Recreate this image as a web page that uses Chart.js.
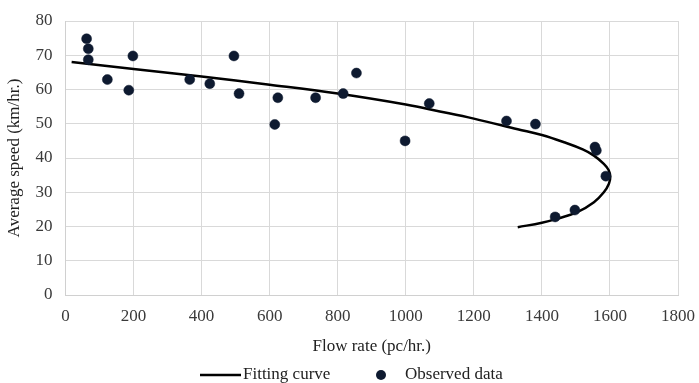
<!DOCTYPE html>
<html>
<head>
<meta charset="utf-8">
<script src="https://cdn.jsdelivr.net/npm/chart.js@4"></script>
<style>
  html, body { margin: 0; padding: 0; background: #ffffff; }
  #wrap { width: 699px; height: 383px; }
</style>
</head>
<body>
<div id="wrap"><canvas id="c" width="699" height="383"></canvas></div>
<script>
// Observed data (flow rate pc/hr, average speed km/hr)
const observedFlow  = [62, 67, 67, 123, 186, 198, 365, 424, 495, 510, 615, 624, 735, 816, 855, 998, 1069, 1296, 1381, 1556, 1560, 1588, 1439, 1497];
const observedSpeed = [74.8, 71.9, 68.7, 62.9, 59.8, 69.8, 62.9, 61.7, 69.8, 58.8, 49.8, 57.6, 57.6, 58.8, 64.8, 45.0, 55.9, 50.8, 49.9, 43.2, 42.2, 34.7, 22.8, 24.8];

// Fitting curve
const curveFlow  = [18, 200, 400, 600, 800, 1000, 1100, 1200, 1329, 1400, 1465, 1520, 1553, 1582, 1596, 1601, 1597, 1582, 1553, 1504, 1446, 1400, 1329];
const curveSpeed = [68.0, 66.0, 63.8, 61.4, 58.8, 55.6, 53.6, 51.5, 48.4, 46.7, 44.6, 42.5, 40.7, 38.3, 36.5, 34.6, 32.5, 30.0, 27.1, 24.2, 22.3, 21.1, 19.8];

// Axis ticks
const xTicks = [0, 200, 400, 600, 800, 1000, 1200, 1400, 1600, 1800];
const yTicks = [0, 10, 20, 30, 40, 50, 60, 70, 80];

const seriesNames = ['Fitting curve', 'Observed data'];
const xTitle = 'Flow rate (pc/hr.)';
const yTitle = 'Average speed (km/hr.)';

const FONT = "'Liberation Serif', 'Times New Roman', serif";
const DOT = '#0e1a30';

const observedPts = observedFlow.map((x, i) => ({ x, y: observedSpeed[i] }));
const curvePts = curveFlow.map((x, i) => ({ x, y: curveSpeed[i] }));

const legendPlugin = {
  id: 'customLegend',
  afterDraw(chart) {
    const ctx = chart.ctx;
    const y = 375;
    ctx.save();
    ctx.font = "17px " + FONT;
    ctx.textBaseline = 'middle';
    ctx.textAlign = 'left';
    ctx.strokeStyle = '#000000';
    ctx.lineWidth = 2.5;
    ctx.beginPath();
    ctx.moveTo(200, y);
    ctx.lineTo(241, y);
    ctx.stroke();
    ctx.fillStyle = '#222222';
    ctx.fillText(seriesNames[0], 243, y);
    ctx.fillStyle = DOT;
    ctx.beginPath();
    ctx.arc(381, y, 5, 0, Math.PI * 2);
    ctx.fill();
    ctx.fillStyle = '#222222';
    ctx.fillText(seriesNames[1], 405, y);
    ctx.restore();
  }
};

new Chart(document.getElementById('c'), {
  type: 'scatter',
  data: {
    datasets: [
      {
        label: seriesNames[1],
        data: observedPts,
        pointRadius: 5,
        pointHoverRadius: 5,
        pointBackgroundColor: DOT,
        pointBorderColor: DOT,
        pointBorderWidth: 0.5,
        showLine: false
      },
      {
        label: seriesNames[0],
        data: curvePts,
        showLine: true,
        borderColor: '#000000',
        borderWidth: 2.5,
        pointRadius: 0,
        pointHoverRadius: 0,
        tension: 0.4,
        fill: false
      }
    ]
  },
  options: {
    responsive: false,
    animation: false,
    devicePixelRatio: 1,
    layout: { padding: { top: 21, right: 21, bottom: 26, left: 0 } },
    plugins: {
      legend: { display: false },
      tooltip: { enabled: false }
    },
    scales: {
      x: {
        type: 'linear',
        min: xTicks[0],
        max: xTicks[xTicks.length - 1],
        afterBuildTicks(scale) { scale.ticks = xTicks.map(v => ({ value: v })); },
        grid: { color: '#d9d9d9', lineWidth: 1, drawTicks: false },
        border: { display: true, color: '#d0d0d0' },
        ticks: { font: { family: FONT, size: 17 }, color: '#3a3a3a', padding: 11, maxRotation: 0, callback: v => String(v) },
        title: { display: true, text: xTitle, font: { family: FONT, size: 17 }, color: '#222222', padding: { top: 8, bottom: 0 } },
        afterFit(scale) { scale.height = 62; scale.paddingRight = 0; scale.paddingLeft = 0; }
      },
      y: {
        type: 'linear',
        min: yTicks[0],
        max: yTicks[yTicks.length - 1],
        afterBuildTicks(scale) { scale.ticks = yTicks.map(v => ({ value: v })); },
        grid: { color: '#d9d9d9', lineWidth: 1, drawTicks: false },
        border: { display: true, color: '#d0d0d0' },
        ticks: { font: { family: FONT, size: 17 }, color: '#3a3a3a', padding: 13, callback: v => String(v) },
        title: { display: true, text: yTitle, font: { family: FONT, size: 17 }, color: '#222222', padding: { top: 4, bottom: 0 } },
        afterFit(scale) { scale.width = 65.5; scale.paddingTop = 0; scale.paddingBottom = 0; }
      }
    }
  },
  plugins: [legendPlugin]
});
</script>
</body>
</html>
